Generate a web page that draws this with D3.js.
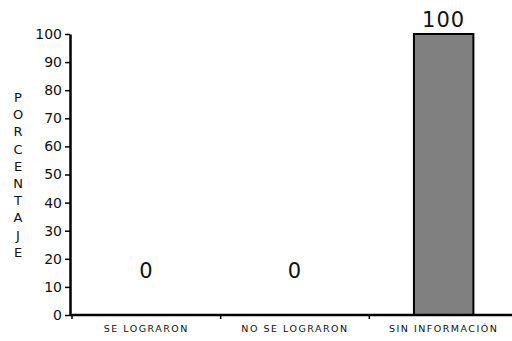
<!DOCTYPE html>
<html><head><meta charset="utf-8">
<script src="https://cdn.jsdelivr.net/npm/d3@7"></script>
<style>body{margin:0;background:#fff}svg{display:block}</style>
</head><body>
<script>
const categories = ["SE LOGRARON", "NO SE LOGRARON", "SIN INFORMACIÓN"];
const values = [0, 0, 100];
const valueLabels = ["0", "0", "100"];
const yTicks = [0,10,20,30,40,50,60,70,80,90,100];
const yTitle = "PORCENTAJE";

const W = 512, H = 341;
const m = {left:70, right:-6, top:34, bottom:26};
const svg = d3.select("body").append("svg").attr("width", W).attr("height", H);
const font = "'DejaVu Sans', Verdana, sans-serif";

const x = d3.scaleBand().domain(categories).range([m.left+2, W - m.right]).paddingInner(0.6).paddingOuter(0.3);
const xb = d3.scaleBand().domain(categories).range([m.left+2, W - m.right]);
const y = d3.scaleLinear().domain([0,100]).range([H - m.bottom, m.top]);

// bars
svg.selectAll("rect.bar").data(values).join("rect")
  .attr("x", (d,i)=>x(categories[i])).attr("width", x.bandwidth())
  .attr("y", d=>y(d)).attr("height", d=>y(0)-y(d))
  .attr("fill", "#808080").attr("stroke", "#000").attr("stroke-width", 2);

// y axis
const ya = svg.append("g").attr("transform", `translate(${m.left},0)`)
  .call(d3.axisLeft(y).tickValues(yTicks).tickSize(5).tickSizeOuter(0).tickPadding(3));
ya.select(".domain").attr("stroke-width", 2.5);
ya.selectAll(".tick line").attr("stroke-width", 1.5);
ya.selectAll("text").attr("font-family", font).attr("font-size", 14).attr("fill", "#111");

// x axis
const xa = svg.append("g").attr("transform", `translate(0,${y(0)})`);
xa.append("line").attr("x1", m.left).attr("x2", W - m.right).attr("stroke", "#000").attr("stroke-width", 2.5);
xa.selectAll("line.tk").data(categories).join("line").attr("class","tk")
  .attr("x1", d=>xb(d)).attr("x2", d=>xb(d)).attr("y1", 0).attr("y2", 4)
  .attr("stroke", "#000").attr("stroke-width", 1.5);
xa.selectAll("text").data(categories).join("text")
  .attr("x", d=>xb(d)+xb.bandwidth()/2).attr("y", 16.5)
  .attr("text-anchor", "middle").attr("font-family", font).attr("font-size", 9.5)
  .attr("fill", "#111").attr("letter-spacing", 1.5).text(d=>d);

// value labels
svg.selectAll("text.val").data(values).join("text").attr("class","val")
  .attr("x", (d,i)=>x(categories[i]) + x.bandwidth()/2)
  .attr("y", d => d === 0 ? y(15) + 5 : y(d) - 7)
  .attr("text-anchor", "middle").attr("font-family", font).attr("font-size", 21)
  .attr("fill", "#111").attr("letter-spacing", 1)
  .text((d,i)=>valueLabels[i]);

// y title stacked letters
svg.append("g").selectAll("text").data(yTitle.split("")).join("text")
  .attr("x", 18).attr("y", (d,i)=>102 + i*17.2)
  .attr("text-anchor", "middle").attr("font-family", font).attr("font-size", 13)
  .attr("fill", "#111").text(d=>d);
</script>
</body></html>
